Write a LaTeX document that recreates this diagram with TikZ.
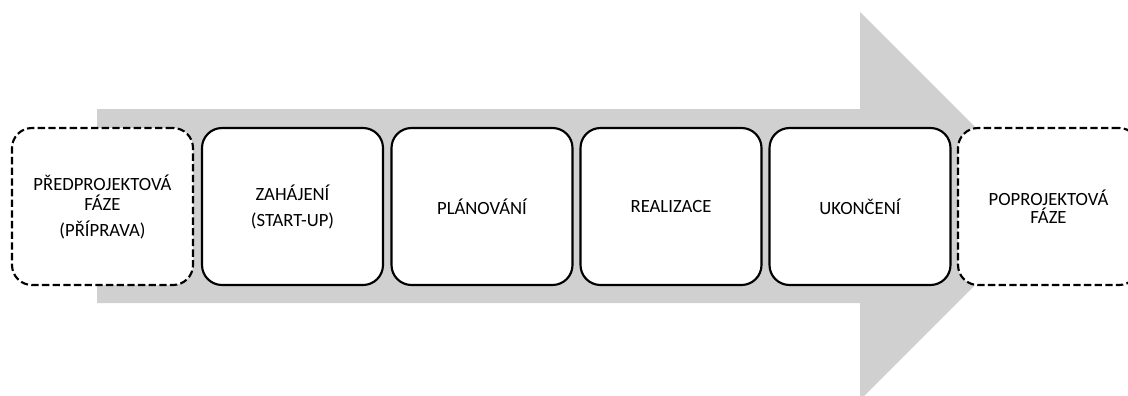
\documentclass[tikz,border=0pt]{standalone}
\usepackage{fontspec}
\setmainfont{Carlito}
\definecolor{arrowgray}{HTML}{D0D0D0}
\tikzset{
  phase/.style={draw=black, line width=1.6pt, fill=white, rounded corners=15pt,
    minimum width=135.75pt, minimum height=117.75pt, inner sep=0pt,
    align=center, font=\fontsize{14pt}{16pt}\selectfont},
  outerphase/.style={phase, dash pattern=on 5.5pt off 2.5pt},
}
\begin{document}
\begin{tikzpicture}[x=0.75pt,y=-0.75pt]
\useasboundingbox (0,0) rectangle (1128,396);
% big process arrow behind the phases
\fill[arrowgray] (97,109) -- (860,109) -- (860,12) -- (1054,206)
  -- (860,400) -- (860,303) -- (97,303) -- cycle;
% phases
\node[outerphase] (pre) at (102.5,206.5) {PŘEDPROJEKTOVÁ\\[-1pt]FÁZE\\[3.5pt](PŘÍPRAVA)};
\node[phase] (start) at (292.5,206.5) {ZAHÁJENÍ\\[3.5pt](START-UP)};
\node[phase] (plan) at (482,206.5) {PLÁNOVÁNÍ};
\node[phase] (real) at (671,206.5) {REALIZACE};
\node[phase] (end) at (860,206.5) {UKONČENÍ};
\node[outerphase] (post) at (1048.5,206.5) {POPROJEKTOVÁ\\[-2.5pt]FÁZE};
\end{tikzpicture}
\end{document}
